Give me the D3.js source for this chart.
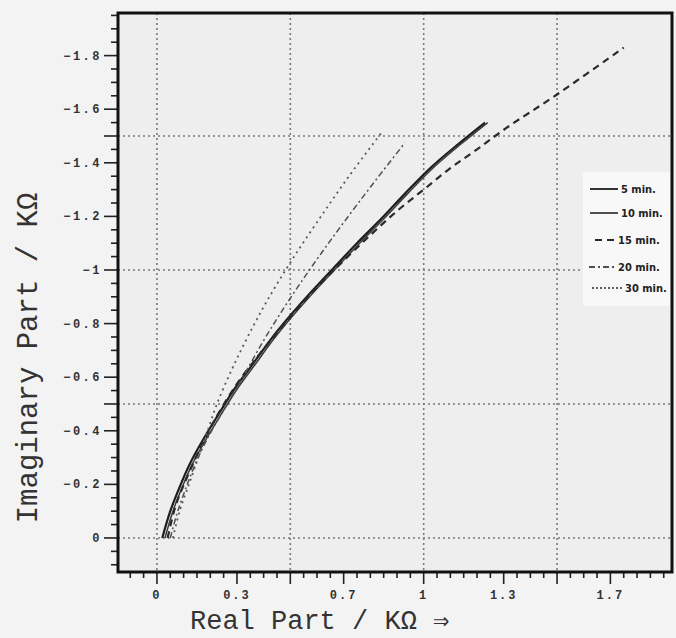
<!DOCTYPE html>
<html>
<head>
<meta charset="utf-8">
<script src="https://cdn.jsdelivr.net/npm/d3@7"></script>
<style>
  body { margin: 0; background: #f3f3f3; }
  svg { display: block; }
</style>
</head>
<body>
<div id="chart"></div>
<script>
var width = 676, height = 638;
var frame = { left: 118, right: 672, top: 13, bottom: 572 };

// tick labels and grid positions
var xTickLabels = [0, 0.3, 0.7, 1, 1.3, 1.7];
var yTickLabels = [0, -0.2, -0.4, -0.6, -0.8, -1, -1.2, -1.4, -1.6, -1.8];
var gridValues = [0, 0.5, 1, 1.5];
var gridValuesY = [0, -0.5, -1, -1.5];

// series: [real, imaginary] in kOhm
var series5 = [[0.02,0],[0.05,-0.1],[0.085,-0.19],[0.125,-0.28],[0.175,-0.37],[0.23,-0.46],[0.29,-0.555],[0.36,-0.65],[0.43,-0.745],[0.5,-0.83],[0.58,-0.92],[0.66,-1.005],[0.75,-1.1],[0.84,-1.19],[0.93,-1.285],[1.03,-1.385],[1.13,-1.47],[1.23,-1.55]];
var series10 = [[0.03,0],[0.06,-0.1],[0.095,-0.19],[0.135,-0.28],[0.185,-0.37],[0.24,-0.46],[0.3,-0.555],[0.37,-0.65],[0.44,-0.745],[0.51,-0.83],[0.59,-0.92],[0.67,-1.005],[0.76,-1.1],[0.85,-1.19],[0.94,-1.285],[1.04,-1.385],[1.14,-1.47],[1.24,-1.55]];
var series15 = [[0.04,0],[0.07,-0.12],[0.11,-0.22],[0.2,-0.41],[0.3,-0.575],[0.4,-0.705],[0.5,-0.825],[0.6,-0.935],[0.7,-1.035],[0.8,-1.13],[0.9,-1.22],[1.0,-1.3],[1.1,-1.38],[1.2,-1.45],[1.31,-1.53],[1.5,-1.655],[1.75,-1.83]];
var series20 = [[0.05,0],[0.075,-0.09],[0.11,-0.19],[0.15,-0.29],[0.205,-0.4],[0.27,-0.51],[0.33,-0.614],[0.4,-0.737],[0.47,-0.849],[0.54,-0.954],[0.62,-1.068],[0.7,-1.177],[0.8,-1.309],[0.93,-1.475]];
var series30 = [[0.06,0],[0.085,-0.1],[0.12,-0.2],[0.155,-0.3],[0.19,-0.4],[0.225,-0.5],[0.28,-0.627],[0.34,-0.75],[0.41,-0.88],[0.5,-1.028],[0.6,-1.178],[0.72,-1.35],[0.84,-1.51]];
var legendLabels = ["5 min.", "10 min.", "15 min.", "20 min.", "30 min."];

var styles = [
  { color: "#1e1e1e", w: 2.2, dash: null },
  { color: "#3a3a3a", w: 1.5, dash: null },
  { color: "#2a2a2a", w: 2.2, dash: "7,5" },
  { color: "#505050", w: 1.5, dash: "6,3,2,3" },
  { color: "#5a5a5a", w: 1.8, dash: "2,4" }
];
var allSeries = [series5, series10, series15, series20, series30];

var x = d3.scaleLinear().domain([-0.146, 1.931]).range([frame.left, frame.right]);
var y = d3.scaleLinear().domain([0.127, -1.959]).range([frame.bottom, frame.top]);

var svg = d3.select("#chart").append("svg")
    .attr("width", width)
    .attr("height", height);

svg.append("rect")
    .attr("x", frame.left).attr("y", frame.top)
    .attr("width", frame.right - frame.left)
    .attr("height", frame.bottom - frame.top)
    .attr("fill", "#eeeeee");

svg.append("clipPath").attr("id", "clip")
  .append("rect")
    .attr("x", frame.left).attr("y", frame.top)
    .attr("width", frame.right - frame.left)
    .attr("height", frame.bottom - frame.top);

// dotted grid
var grid = svg.append("g").attr("clip-path", "url(#clip)");
gridValues.forEach(function (v) {
  grid.append("line")
      .attr("x1", x(v)).attr("x2", x(v))
      .attr("y1", frame.top).attr("y2", frame.bottom)
      .attr("stroke", "#7a7a7a").attr("stroke-width", 1.6)
      .attr("stroke-dasharray", "2,3");
});
gridValuesY.forEach(function (v) {
  grid.append("line")
      .attr("x1", frame.left).attr("x2", frame.right)
      .attr("y1", y(v)).attr("y2", y(v))
      .attr("stroke", "#7a7a7a").attr("stroke-width", 1.6)
      .attr("stroke-dasharray", "2,3");
});

// ticks: minor every 0.05, long at labels and grid lines
function isMajor(v, labels, grids) {
  return labels.concat(grids).some(function (l) { return Math.abs(l - v) < 1e-6; });
}
var xt = d3.range(-0.1, 1.93, 0.05).map(function (d) { return Math.round(d * 100) / 100; });
var yt = d3.range(0.1, -1.96, -0.05).map(function (d) { return Math.round(d * 100) / 100; });
var ticks = svg.append("g").attr("stroke", "#222").attr("stroke-width", 1.6);
xt.forEach(function (v) {
  var len = isMajor(v, xTickLabels, gridValues) ? 12 : 6;
  ticks.append("line")
      .attr("x1", x(v)).attr("x2", x(v))
      .attr("y1", frame.bottom).attr("y2", frame.bottom + len);
});
yt.forEach(function (v) {
  var len = isMajor(v, yTickLabels, gridValuesY) ? 14 : 7;
  ticks.append("line")
      .attr("x1", frame.left - len).attr("x2", frame.left)
      .attr("y1", y(v)).attr("y2", y(v));
});

var tickFont = "'Liberation Mono', 'DejaVu Sans Mono', monospace";
svg.append("g").selectAll("text")
    .data(xTickLabels)
  .enter().append("text")
    .attr("x", function (d) { return x(d); })
    .attr("y", 599)
    .attr("text-anchor", "middle")
    .attr("font-family", tickFont)
    .attr("font-weight", "bold")
    .attr("font-size", 12)
    .attr("letter-spacing", 2)
    .attr("fill", "#333")
    .text(function (d) { return d3.format("")(d); });

svg.append("g").selectAll("text")
    .data(yTickLabels)
  .enter().append("text")
    .attr("x", 102)
    .attr("y", function (d) { return y(d) + 4; })
    .attr("text-anchor", "end")
    .attr("font-family", tickFont)
    .attr("font-weight", "bold")
    .attr("font-size", 12)
    .attr("letter-spacing", 2.5)
    .attr("fill", "#333")
    .text(function (d) { return d3.format("")(d); });

// curves
var line = d3.line()
    .x(function (d) { return x(d[0]); })
    .y(function (d) { return y(d[1]); })
    .curve(d3.curveCatmullRom.alpha(0.5));
var curves = svg.append("g").attr("clip-path", "url(#clip)");
allSeries.forEach(function (s, i) {
  curves.append("path")
      .datum(s)
      .attr("d", line)
      .attr("fill", "none")
      .attr("stroke", styles[i].color)
      .attr("stroke-width", styles[i].w)
      .attr("stroke-dasharray", styles[i].dash);
});

// legend
var legend = svg.append("g");
legend.append("rect")
    .attr("x", 583).attr("y", 172)
    .attr("width", frame.right - 583 - 2).attr("height", 134)
    .attr("fill", "#f8f8f8");
var legendY = [189, 213, 240, 267, 288];
var legendX1 = [590, 590, 595, 589, 592];
var legendX2 = [618, 618, 615, 615, 622];
legendLabels.forEach(function (lab, i) {
  legend.append("line")
      .attr("x1", legendX1[i]).attr("x2", legendX2[i])
      .attr("y1", legendY[i]).attr("y2", legendY[i])
      .attr("stroke", styles[i].color)
      .attr("stroke-width", 1.8)
      .attr("stroke-dasharray", styles[i].dash ? (i == 4 ? "2,2" : styles[i].dash) : null);
  legend.append("text")
      .attr("x", legendX2[i] + 3)
      .attr("y", legendY[i] + 4)
      .attr("font-family", "'Liberation Sans Narrow', 'DejaVu Sans Condensed', sans-serif")
      .attr("font-weight", "bold")
      .attr("font-size", 11)
      .attr("fill", "#222")
      .text(lab);
});

// frame
svg.append("rect")
    .attr("x", frame.left).attr("y", frame.top)
    .attr("width", frame.right - frame.left)
    .attr("height", frame.bottom - frame.top)
    .attr("fill", "none")
    .attr("stroke", "#111")
    .attr("stroke-width", 3);

// axis titles
svg.append("text")
    .attr("x", 190).attr("y", 629)
    .attr("font-family", tickFont)
    .attr("font-size", 27)
    .attr("fill", "#333")
    .text("Real Part / K\u03A9 \u21D2");

svg.append("text")
    .attr("transform", "translate(37,358) rotate(-90)")
    .attr("text-anchor", "middle")
    .attr("font-family", tickFont)
    .attr("font-size", 29)
    .attr("fill", "#333")
    .text("Imaginary Part / K\u03A9");
</script>
</body>
</html>
